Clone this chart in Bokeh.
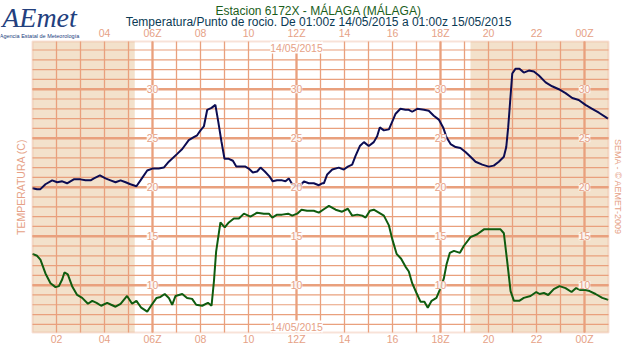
import math
from bokeh.plotting import figure
from bokeh.models import Label, LabelSet, Range1d, BoxAnnotation, ColumnDataSource
from bokeh.embed import file_html
from bokeh.resources import INLINE
from bokeh.core.properties import value

# ---------------- data ----------------
temp_hours = [1.00, 1.19, 1.33, 1.54, 1.82, 2.03, 2.24, 2.44, 2.72, 3.00, 3.21, 3.42, 3.56, 3.81,
              4.04, 4.25, 4.46, 4.67, 4.88, 5.08, 5.33, 5.50, 5.78, 5.99, 6.26, 6.47, 6.68, 7.03,
              7.24, 7.51, 7.72, 7.86, 8.00, 8.14, 8.28, 8.46, 8.62, 8.74, 8.87, 9.00, 9.18, 9.35,
              9.49, 9.67, 9.87, 10.01, 10.18, 10.36, 10.50, 10.68, 10.87, 11.01, 11.19, 11.40,
              11.54, 11.68, 11.82, 11.96, 12.17, 12.31, 12.51, 12.72, 12.93, 13.07, 13.14, 13.28,
              13.49, 13.76, 13.97, 14.14, 14.32, 14.46, 14.64, 14.81, 15.01, 15.22, 15.36, 15.47,
              15.64, 15.85, 15.99, 16.13, 16.33, 16.54, 16.68, 16.82, 17.03, 17.31, 17.51, 17.72,
              17.93, 18.11, 18.25, 18.42, 18.63, 18.83, 19.04, 19.25, 19.46, 19.74, 20.01, 20.22,
              20.43, 20.64, 20.74, 20.82, 20.90, 20.99, 21.13, 21.29, 21.47, 21.68, 21.89, 22.10,
              22.38, 22.65, 22.93, 23.21, 23.49, 23.76, 24.04, 24.32, 24.60, 24.98]
temp_values = [19.9, 19.8, 19.8, 20.3, 20.7, 20.5, 20.6, 20.4, 20.8, 20.8, 20.7, 20.7, 20.9, 21.2,
               20.9, 20.7, 20.5, 20.7, 20.5, 20.3, 20.1, 20.7, 21.7, 21.9, 21.9, 22.0, 22.6, 23.4,
               23.9, 24.8, 25.1, 25.3, 25.8, 26.2, 27.9, 28.1, 28.4, 26.7, 24.7, 22.9, 22.9, 22.7,
               22.1, 22.1, 22.1, 21.9, 21.5, 21.6, 22.0, 21.6, 21.1, 20.6, 20.7, 20.7,
               20.6, 20.9, 20.3, 20.1, 20.2, 20.6, 20.4, 20.4, 20.2, 20.4, 20.4, 21.3,
               21.8, 22.0, 21.8, 22.1, 22.3, 23.2, 24.2, 24.6, 24.2, 24.6, 25.2, 26.1,
               25.8, 25.9, 26.7, 27.5, 28.0, 27.9, 27.9, 27.7, 28.0, 27.9, 27.8, 27.3,
               26.9, 26.1, 25.1, 24.4, 24.1, 24.0, 23.6, 23.1, 22.6, 22.3, 22.1, 22.2,
               22.6, 23.1, 24.1, 26.1, 28.7, 31.6, 32.1, 32.1, 31.7, 31.9, 31.8, 31.4,
               30.7, 30.3, 30.0, 29.6, 29.1, 28.9, 28.4, 28.0, 27.6, 27.0]

dew_hours = [1.00, 1.19, 1.33, 1.54, 1.75, 1.96, 2.10, 2.24, 2.33, 2.47, 2.65, 2.86, 3.07, 3.31,
             3.49, 3.67, 3.86, 4.11, 4.28, 4.46, 4.67, 4.94, 5.15, 5.33, 5.53, 5.78, 5.94, 6.17,
             6.33, 6.51, 6.68, 6.82, 6.96, 7.24, 7.44, 7.65, 7.82, 8.07, 8.31, 8.46, 8.56, 8.65,
             8.83, 9.01, 9.18, 9.39, 9.60, 9.81, 10.08, 10.36, 10.64, 10.85, 10.99, 11.19, 11.40,
             11.65, 11.82, 12.03, 12.21, 12.44, 12.72, 12.93, 13.17, 13.35, 13.63, 13.90, 14.14,
             14.32, 14.53, 14.74, 14.88, 15.06, 15.22, 15.43, 15.64, 15.85, 15.99, 16.17, 16.36,
             16.54, 16.68, 16.82, 17.00, 17.17, 17.33, 17.47, 17.63, 17.83, 18.00, 18.14, 18.25,
             18.39, 18.56, 18.81, 18.97, 19.25, 19.53, 19.81, 20.15, 20.50, 20.64, 20.78, 20.92,
             21.06, 21.28, 21.47, 21.75, 21.99, 22.13, 22.31, 22.49, 22.72, 22.96, 23.21, 23.46,
             23.65, 23.83, 24.04, 24.21, 24.46, 24.74, 24.99]
dew_values = [13.2, 13.0, 12.6, 11.2, 10.2, 9.8, 9.9, 10.6, 11.3, 11.1, 9.9, 9.0, 8.7, 8.1,
              8.4, 8.2, 7.9, 8.2, 8.0, 7.8, 8.1, 8.9, 8.1, 8.4, 7.7, 7.3, 7.9, 8.7,
              8.8, 9.1, 8.7, 8.0, 8.9, 9.1, 8.7, 8.6, 8.0, 7.9, 8.2, 7.9, 10.4, 13.4,
              16.4, 15.9, 16.4, 16.8, 16.8, 17.3, 17.0, 17.4, 17.3, 17.3, 16.9, 17.2, 17.2,
              17.3, 17.1, 17.3, 17.7, 17.6, 17.6, 17.4, 17.8, 18.1, 17.7, 17.5, 17.8,
              17.1, 17.2, 17.1, 16.9, 17.6, 17.7, 17.4, 17.1, 16.1, 14.7, 13.2, 12.7,
              11.9, 11.4, 10.2, 9.2, 8.3, 8.3, 7.7, 8.4, 8.7, 9.7, 10.7, 12.1,
              13.3, 13.5, 13.3, 14.0, 14.9, 15.2, 15.7, 15.7, 15.7, 15.3, 12.4, 9.4,
              8.4, 8.4, 8.7, 8.9, 9.3, 9.1, 9.2, 9.0, 9.6, 9.9, 9.7, 9.3,
              9.7, 9.5, 9.5, 9.4, 9.1, 8.7, 8.5]

time_span = (1.0, 25.0)            # 01:00Z 14/05 -> 01:00Z 15/05 (hours)
temp_span = (5.17, 34.87)          # visible temperature range (C)
night_starts = [1.0, 19.25]        # night (shaded) periods
night_ends = [5.26, 25.0]
hour_lines = list(range(2, 25))
main_hours = [6, 12, 18, 24]
temp_minor = list(range(6, 35))
temp_major = [10, 15, 20, 25, 30]
bottom_ticks = [2, 4, 6, 8, 10, 12, 14, 16, 18, 20, 22, 24]
bottom_labels = ["02", "04", "06Z", "08", "10", "12Z", "14", "16", "18Z", "20", "22", "00Z"]
top_ticks = [4, 6, 8, 10, 12, 14, 16, 18, 20, 22, 24]
top_labels = ["04", "06Z", "08", "10", "12Z", "14", "16", "18Z", "20", "22", "00Z"]
date_label = "14/05/2015"

title1 = "Estacion 6172X - MÁLAGA (MÁLAGA)"
title2 = "Temperatura/Punto de rocio. De 01:00z 14/05/2015 a 01:00z 15/05/2015"

# ---------------- layout / style ----------------
W, H = 624, 344
CH_LEFT, CH_RIGHT, CH_TOP, CH_BOT = 32, 608, 41, 332   # chart box in pixels
GRID = "#E9A07D"
SHADE = "#F3E1CB"
LBL = "#E6A186"
NAVY = "#0C0C52"
GREEN = "#0F5C0F"
FONT = "Liberation Sans"

pph = (CH_RIGHT - CH_LEFT) / (time_span[1] - time_span[0])
ppd = (CH_BOT - CH_TOP) / (temp_span[1] - temp_span[0])


def hx(px):
    return time_span[0] + (px - CH_LEFT) / pph


def ty(py):
    return temp_span[1] - (py - CH_TOP) / ppd


p = figure(width=W, height=H, output_backend="svg", toolbar_location=None,
           x_range=Range1d(hx(0), hx(W)), y_range=Range1d(ty(H), ty(0)),
           x_axis_location=None, y_axis_location=None,
           min_border=0, background_fill_color="white", border_fill_color="white",
           outline_line_color=None)
p.xgrid.visible = False
p.ygrid.visible = False

t0, t1 = time_span
y0, y1 = temp_span

# night shading
p.quad(left=night_starts, right=night_ends, bottom=y0, top=y1, fill_color=SHADE, line_color=None)

# grid
p.segment(x0=hour_lines, y0=y0, x1=hour_lines, y1=y1, line_color=GRID, line_width=1.3)
p.segment(x0=main_hours, y0=y0, x1=main_hours, y1=y1, line_color=GRID, line_width=2.2)
p.segment(x0=t0, y0=temp_minor, x1=t1, y1=temp_minor, line_color=GRID, line_width=1.2)
p.segment(x0=t0, y0=temp_major, x1=t1, y1=temp_major, line_color=GRID, line_width=2.6)

# data
p.line(temp_hours, temp_values, line_color=NAVY, line_width=2)
p.line(dew_hours, dew_values, line_color=GREEN, line_width=2)

# chart border
p.add_layout(BoxAnnotation(left=t0, right=t1, bottom=y0, top=y1, fill_alpha=0,
                           line_color=GRID, line_width=2))

# time tick labels (below / above the chart)
p.text(x=bottom_ticks, y=ty(CH_BOT + 6.5), text=bottom_labels, text_align="center",
       text_baseline="middle", text_color=LBL, text_font=value(FONT), text_font_size="10.5px")
p.text(x=top_ticks, y=ty(CH_TOP - 9), text=top_labels, text_align="center",
       text_baseline="middle", text_color=LBL, text_font=value(FONT), text_font_size="10.5px")

# temperature value labels on the 6-hourly lines
lx, ly, lt = [], [], []
for h in main_hours:
    for t in temp_major:
        lx.append(h)
        ly.append(t)
        lt.append(str(t))
p.add_layout(LabelSet(x="x", y="y", text="text",
                      source=ColumnDataSource(dict(x=lx, y=ly, text=lt)),
                      text_align="center", text_baseline="middle",
                      text_color=LBL, text_font=value(FONT), text_font_size="10.5px",
                      background_fill_color="white", background_fill_alpha=0.85))

# date labels at 12Z, top and bottom of the chart
for py in (CH_TOP + 6, CH_BOT - 6):
    p.add_layout(Label(x=12, y=ty(py), text=date_label, text_align="center",
                       text_baseline="middle", text_color=LBL, text_font=FONT,
                       text_font_size="10.5px", background_fill_color="white"))

# titles
p.add_layout(Label(x=hx(318), y=ty(10.5), text=title1, text_align="center", text_baseline="middle",
                   text_color="#1B5E1B", text_font=FONT, text_font_size="12px"))
p.add_layout(Label(x=hx(318), y=ty(21.5), text=title2, text_align="center", text_baseline="middle",
                   text_color="#0B3A55", text_font=FONT, text_font_size="12px"))

# side labels
mid_y = ty((CH_TOP + CH_BOT) / 2)
p.add_layout(Label(x=hx(20), y=mid_y, text="TEMPERATURA (C)", angle=math.pi / 2,
                   text_align="center", text_baseline="middle",
                   text_color=LBL, text_font=FONT, text_font_size="10.5px"))
p.add_layout(Label(x=hx(617), y=mid_y, text="SEMA - © AEMET-2009", angle=-math.pi / 2,
                   text_align="center", text_baseline="middle",
                   text_color=LBL, text_font=FONT, text_font_size="9px"))

# logo
p.add_layout(Label(x=hx(39), y=ty(17), text="AEmet", text_align="center", text_baseline="middle",
                   text_color="#23407E", text_font="Liberation Serif", text_font_style="italic",
                   text_font_size="28px"))
p.add_layout(Label(x=hx(39), y=ty(35), text="Agencia Estatal de Meteorología", text_align="center",
                   text_baseline="middle", text_color="#23407E", text_font=FONT,
                   text_font_size="5.5px"))

open("out.html", "w").write(file_html(p, INLINE))
